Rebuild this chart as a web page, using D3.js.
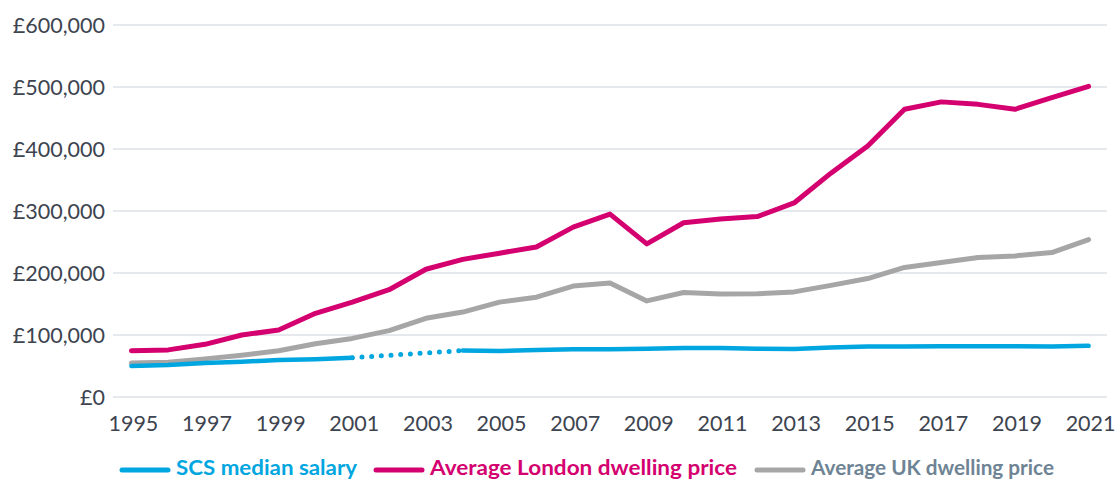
<!DOCTYPE html>
<html>
<head>
<meta charset="utf-8">
<script src="https://cdn.jsdelivr.net/npm/d3@7"></script>
<style>
  body { margin: 0; background: #fff; overflow: hidden; }
  text { font-family: Lato, "Open Sans", sans-serif; }
</style>
</head>
<body>
<div id="chart"></div>
<script>
const years = d3.range(1995, 2022);
const yTicks = [0, 100000, 200000, 300000, 400000, 500000, 600000];
const xTicks = [1995, 1997, 1999, 2001, 2003, 2005, 2007, 2009, 2011, 2013, 2015, 2017, 2019, 2021];

// SCS median salary (null = no data, bridged with a dotted line)
const salary = [50000, 51500, 55000, 57000, 59500, 61000, 63500, null, null, 75000,
  74000, 76000, 77000, 77000, 78000, 79000, 79000, 78000, 77500, 80000,
  81500, 81500, 82000, 82000, 82000, 81500, 82500];
const london = [74500, 76000, 85000, 100000, 108000, 135000, 153000, 173000, 206000, 222000,
  232000, 242000, 274000, 295000, 247000, 281000, 287000, 291000, 313000, 361000,
  405000, 464000, 476000, 472000, 464000, 483000, 501000];
const uk = [55000, 56000, 61500, 67500, 74500, 86000, 94500, 107000, 127000, 137000,
  153000, 161000, 179000, 184000, 155000, 168500, 166000, 166500, 169500, 180000,
  191000, 209000, 217000, 225000, 227500, 233000, 254000];

const seriesNames = ["SCS median salary", "Average London dwelling price", "Average UK dwelling price"];
const lineColors = ["#00a6df", "#d4006f", "#a6a6a6"];
const textColors = ["#00a6df", "#d4006f", "#6e8494"];

const W = 1118, H = 481;
const m = { left: 113, right: 1107, top: 25, bottom: 397 };

const svg = d3.select("#chart").append("svg")
    .attr("width", W)
    .attr("height", H);

const x = d3.scalePoint()
    .domain(years)
    .range([m.left, m.right])
    .padding(0.5);

const y = d3.scaleLinear()
    .domain([0, 600000])
    .range([m.bottom, m.top]);

// gridlines
svg.append("g")
    .selectAll("line")
    .data(yTicks)
    .join("line")
    .attr("x1", m.left)
    .attr("x2", m.right)
    .attr("y1", d => y(d))
    .attr("y2", d => y(d))
    .attr("stroke", "#dde2e7")
    .attr("stroke-width", 1.6);

// y labels
const fmt = d3.format(",");
svg.append("g")
    .selectAll("text")
    .data(yTicks)
    .join("text")
    .attr("x", 105)
    .attr("y", d => y(d))
    .attr("dy", "0.35em")
    .attr("text-anchor", "end")
    .attr("fill", "#3d4450")
    .style("font-size", "21.5px")
    .text(d => "£" + fmt(d));

// x labels
svg.append("g")
    .selectAll("text")
    .data(xTicks)
    .join("text")
    .attr("x", d => x(d) + 2)
    .attr("y", 431)
    .attr("text-anchor", "middle")
    .attr("fill", "#3d4450")
    .style("font-size", "21.5px")
    .text(d => d);

const line = d3.line()
    .defined(d => d[1] != null)
    .x(d => x(d[0]))
    .y(d => y(d[1]));

function pairs(values) {
    return years.map((yr, i) => [yr, values[i]]);
}

// dotted bridge over missing salary years
const bridge = pairs(salary).filter(d => d[1] != null && d[0] >= 2001 && d[0] <= 2004);
svg.append("path")
    .datum(bridge)
    .attr("d", line)
    .attr("fill", "none")
    .attr("stroke", lineColors[0])
    .attr("stroke-width", 5)
    .attr("stroke-linecap", "round")
    .attr("stroke-dasharray", "0,9.7");

[[uk, 2], [london, 1], [salary, 0]].forEach(([vals, idx]) => {
    svg.append("path")
        .datum(pairs(vals))
        .attr("d", line)
        .attr("fill", "none")
        .attr("stroke", lineColors[idx])
        .attr("stroke-width", idx === 0 ? 4.5 : 5)
        .attr("stroke-linejoin", "round")
        .attr("stroke-linecap", "round");
});

// legend
const legendX = [120, 374, 755];
const legendW = [181, 307, 243];
const lg = svg.append("g");
seriesNames.forEach((name, i) => {
    lg.append("line")
        .attr("x1", legendX[i] + 2)
        .attr("x2", legendX[i] + 48)
        .attr("y1", 470)
        .attr("y2", 470)
        .attr("stroke", lineColors[i])
        .attr("stroke-width", 5)
        .attr("stroke-linecap", "round");
    lg.append("text")
        .attr("x", legendX[i] + 56)
        .attr("y", 475)
        .attr("fill", textColors[i])
        .style("font-size", "21px")
        .style("font-weight", "bold")
        .attr("textLength", legendW[i])
        .attr("lengthAdjust", "spacingAndGlyphs")
        .text(name);
});
</script>
</body>
</html>
